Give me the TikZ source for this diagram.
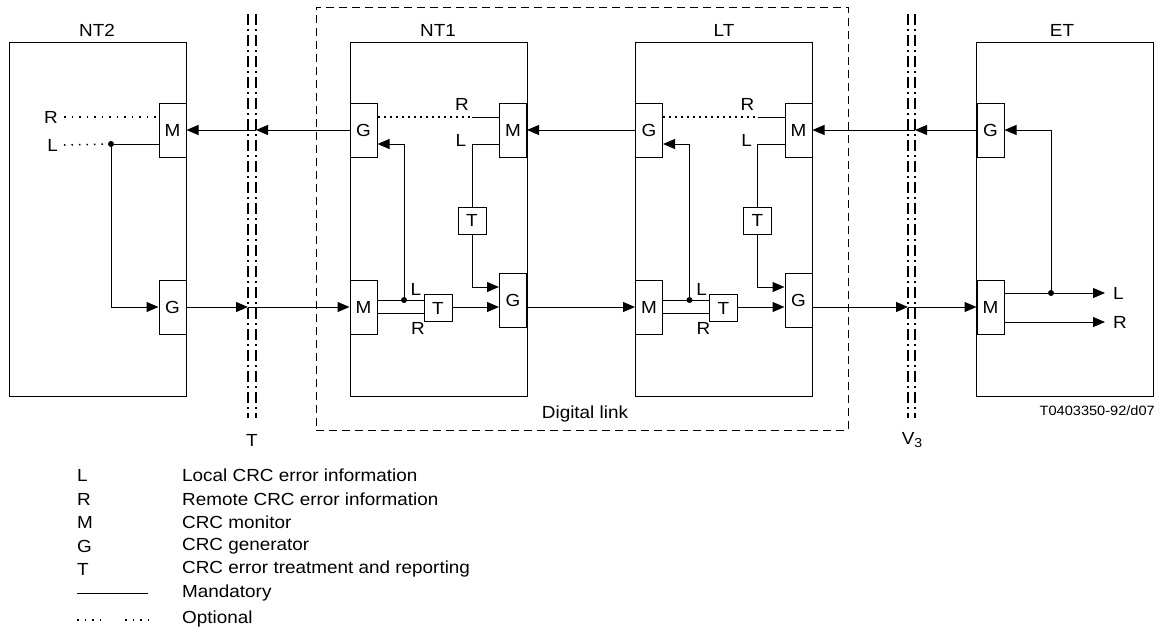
\documentclass[tikz,border=0pt]{standalone}
\usepackage{fontspec}
\setmainfont{Liberation Sans}[FakeStretch=1.08]
\usetikzlibrary{arrows.meta}
\tikzset{
  unit/.style={draw, line width=1pt, minimum width=177pt, minimum height=354pt, inner sep=0},
  blk/.style={draw, line width=1pt, fill=white, minimum width=27pt, minimum height=54pt, inner sep=0},
  tbox/.style={draw, line width=1pt, fill=white, minimum width=28pt, minimum height=27pt, inner sep=0},
  conn/.style={line width=1pt},
  arr/.style={conn, -{Triangle[length=12pt,width=10pt]}},
  opt/.style={line width=1.5pt, dash pattern=on 1.5pt off 6pt},
  optd/.style={line width=2pt, dash pattern=on 2pt off 4pt},
  lbl/.style={inner sep=0},
  iface/.style={line width=1.5pt, dash pattern=on 11pt off 4pt on 2pt off 4pt},
  jdot/.style={circle, fill, inner sep=0, minimum size=6pt},
  txt/.style={font=\fontsize{17.5}{20}\selectfont},
}
\begin{document}
\begin{tikzpicture}[x=1pt,y=-1pt, every node/.style={txt}]
\useasboundingbox (0,0) rectangle (1165,633);

% digital link
\node[draw, line width=1pt, dash pattern=on 8pt off 5pt, minimum width=532pt, minimum height=423pt, inner sep=0] (dl) at (582,218.5) {};
\node[lbl] (dltxt) at (585,414) {Digital link};

% unit boxes
\node[unit] (nt2) at (97.5,219) {};
\node[unit] (nt1) at (438.5,219) {};
\node[unit] (lt) at (724,219) {};
\node[unit] (et) at (1065,219) {};
\node[lbl] (nt2t) at (97,30) {NT2};
\node[lbl] (nt1t) at (438,30) {NT1};
\node[lbl] (ltt) at (724,30) {LT};
\node[lbl] (ett) at (1062,30) {ET};

% interfaces
\coordinate (ta1) at (248,14); \coordinate (tb1) at (248,418);
\coordinate (ta2) at (256,14); \coordinate (tb2) at (256,418);
\coordinate (va1) at (908,14); \coordinate (vb1) at (908,418);
\coordinate (va2) at (915,14); \coordinate (vb2) at (915,418);
\draw[iface] (ta1) -- (tb1);
\draw[iface] (ta2) -- (tb2);
\draw[iface] (va1) -- (vb1);
\draw[iface] (va2) -- (vb2);
\node[lbl] (tlab) at (252,440) {T};
\node[lbl] (vlab) at (912,440) {V\raisebox{-0.35ex}{\fontsize{13}{14}\selectfont 3}};

% NT2 internals
\node[blk] (m0) at (172.5,130) {M};
\node[blk] (g0) at (172.5,307) {G};
\node[lbl, anchor=east] (r0) at (58,117) {R};
\node[lbl, anchor=east] (l0) at (58,145) {L};
\node[jdot] (d0) at (111,144) {};
\draw[opt] (r0.east) ++(6,0) -- (m0.west |- r0.east);
\draw[opt] (l0.east) ++(6,0) -- (d0);
\draw[conn] (d0) -- (m0.west |- d0);
\draw[arr] (d0.center) |- (g0.west);

% NT1 internals
\node[blk] (g1) at (363.5,130) {G};
\node[blk] (m1) at (513,130) {M};
\node[tbox] (t1a) at (472,220.5) {T};
\node[blk] (g1b) at (513,300.5) {G};
\node[blk] (m1b) at (363.5,307) {M};
\node[tbox] (t1b) at (438,308) {T};
\coordinate (r1c) at (472,117);
\draw[optd] (g1.east |- r1c) -- (r1c);
\draw[conn] (r1c) -- (m1.west |- r1c);
\node[lbl] (r1) at (462,104) {R};
\coordinate (l1c) at (472,144);
\draw[conn] (m1.west |- l1c) -- (l1c) -- (t1a.north);
\node[lbl] (l1) at (461,140) {L};
\coordinate (l1d) at (472,287);
\draw[arr] (t1a.south) -- (l1d) -- (g1b.west |- l1d);
\node[jdot] (d1) at (404,300) {};
\draw[conn] (m1b.east |- d1) -- (t1b.west |- d1);
\coordinate (u1) at (404,144);
\draw[arr] (d1.center) -- (u1) -- (g1.east |- u1);
\coordinate (rr1) at (380,313);
\draw[conn] (m1b.east |- rr1) -- (t1b.west |- rr1);
\node[lbl] (l1b) at (416,289) {L};
\node[lbl] (r1b) at (418,328) {R};
\coordinate (aa1) at (460,307);
\draw[arr] (t1b.east |- aa1) -- (g1b.west |- aa1);

% LT internals
\begin{scope}[xshift=285.5pt]
\node[blk] (g2) at (363.5,130) {G};
\node[blk] (m2) at (513,130) {M};
\node[tbox] (t2a) at (472,220.5) {T};
\node[blk] (g2b) at (513,300.5) {G};
\node[blk] (m2b) at (363.5,307) {M};
\node[tbox] (t2b) at (438,308) {T};
\coordinate (r2c) at (472,117);
\draw[optd] (g2.east |- r2c) -- (r2c);
\draw[conn] (r2c) -- (m2.west |- r2c);
\node[lbl] (r2) at (462,104) {R};
\coordinate (l2c) at (472,144);
\draw[conn] (m2.west |- l2c) -- (l2c) -- (t2a.north);
\node[lbl] (l2) at (461,140) {L};
\coordinate (l2d) at (472,287);
\draw[arr] (t2a.south) -- (l2d) -- (g2b.west |- l2d);
\node[jdot] (d2) at (404,300) {};
\draw[conn] (m2b.east |- d2) -- (t2b.west |- d2);
\coordinate (u2) at (404,144);
\draw[arr] (d2.center) -- (u2) -- (g2.east |- u2);
\coordinate (rr2) at (380,313);
\draw[conn] (m2b.east |- rr2) -- (t2b.west |- rr2);
\node[lbl] (l2b) at (416,289) {L};
\node[lbl] (r2b) at (418,328) {R};
\coordinate (aa2) at (460,307);
\draw[arr] (t2b.east |- aa2) -- (g2b.west |- aa2);
\end{scope}

% ET internals
\node[blk] (g3) at (990.5,130) {G};
\node[blk] (m3) at (990.5,307) {M};
\node[jdot] (d3) at (1051,293) {};
\coordinate (eL) at (1105,293);
\coordinate (eR) at (1105,322);
\draw[conn] (m3.east |- eL) -- (d3);
\draw[arr] (d3) -- (eL);
\draw[arr] (m3.east |- eR) -- (eR);
\draw[arr] (d3.center) |- (g3.east);
\node[lbl, anchor=west] (le) at (1113,293) {L};
\node[lbl, anchor=west] (re) at (1113,322) {R};

% main signal path
\coordinate (i1) at (256,130);
\coordinate (i2) at (248,307);
\coordinate (i3) at (915,130);
\coordinate (i4) at (908,307);
\draw[arr] (g1.west) -- (i1);
\draw[arr] (i1) -- (m0.east);
\draw[arr] (g0.east) -- (i2);
\draw[arr] (i2) -- (m1b.west);
\draw[arr] (g2.west) -- (m1.east);
\draw[arr] (g1b.east |- m2b.west) -- (m2b.west);
\draw[arr] (g3.west) -- (i3);
\draw[arr] (i3) -- (m2.east);
\draw[arr] (g2b.east |- m3.west) -- (i4);
\draw[arr] (i4) -- (m3.west);

\node[lbl, anchor=east, font=\fontsize{13.5}{16}\selectfont] (code) at (1155,411) {T0403350-92/d07};

% legend
\node[lbl, anchor=west] (kL) at (77,475) {L};
\node[lbl, anchor=west] (kR) at (77,499) {R};
\node[lbl, anchor=west] (kM) at (77,522) {M};
\node[lbl, anchor=west] (kG) at (77,546) {G};
\node[lbl, anchor=west] (kT) at (77,569) {T};
\node[lbl, anchor=west] (xL) at (182,475) {Local CRC error information};
\node[lbl, anchor=west] (xR) at (182,499) {Remote CRC error information};
\node[lbl, anchor=west] (xM) at (182,522) {CRC monitor};
\node[lbl, anchor=west] (xG) at (182,546) {CRC generator};
\node[lbl, anchor=west] (xT) at (182,569) {CRC error treatment and reporting};
\node[lbl, anchor=west] (xMa) at (182,593) {Mandatory};
\node[lbl, anchor=west] (xO) at (182,619) {Optional};
\coordinate (ma) at (77,593); \coordinate (mb) at (148,593);
\draw[conn] (ma) -- (mb);
\coordinate (oa) at (77,620); \coordinate (ob) at (100,620);
\coordinate (oc) at (125,620); \coordinate (od) at (148,620);
\draw[opt] (oa) -- (ob);
\draw[opt] (oc) -- (od);
\end{tikzpicture}
\end{document}
